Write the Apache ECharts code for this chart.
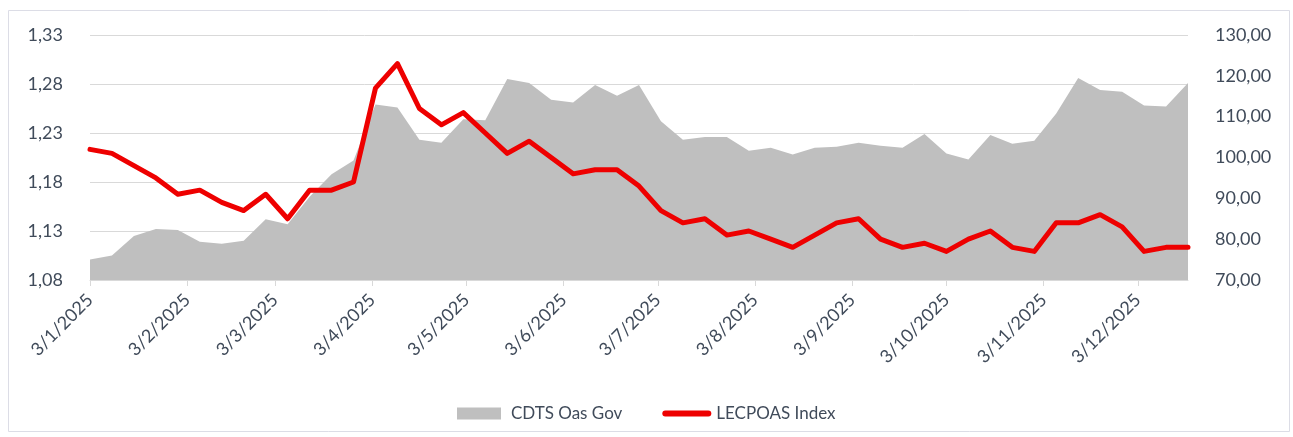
<!DOCTYPE html>
<html>
<head>
<meta charset="utf-8">
<script src="https://cdn.jsdelivr.net/npm/echarts@6/dist/echarts.min.js"></script>
<style>
html,body{margin:0;padding:0;background:#fff;}
#chart{width:1293px;height:437px;}
</style>
</head>
<body>
<div id="chart"></div>
<script>
// Weekly observation dates (Fridays), 2025
const dates = [
  '2025-01-03','2025-01-10','2025-01-17','2025-01-24','2025-01-31',
  '2025-02-07','2025-02-14','2025-02-21','2025-02-28',
  '2025-03-07','2025-03-14','2025-03-21','2025-03-28',
  '2025-04-04','2025-04-11','2025-04-18','2025-04-25',
  '2025-05-02','2025-05-09','2025-05-16','2025-05-23','2025-05-30',
  '2025-06-06','2025-06-13','2025-06-20','2025-06-27',
  '2025-07-04','2025-07-11','2025-07-18','2025-07-25',
  '2025-08-01','2025-08-08','2025-08-15','2025-08-22','2025-08-29',
  '2025-09-05','2025-09-12','2025-09-19','2025-09-26',
  '2025-10-03','2025-10-10','2025-10-17','2025-10-24','2025-10-31',
  '2025-11-07','2025-11-14','2025-11-21','2025-11-28',
  '2025-12-05','2025-12-12','2025-12-19'
];
// CDTS Oas Gov (left axis)
const cdts = [
  1.101,1.105,1.125,1.132,1.131,
  1.119,1.117,1.120,1.142,
  1.137,1.165,1.188,1.202,
  1.259,1.256,1.223,1.220,
  1.244,1.243,1.285,1.281,1.264,
  1.261,1.279,1.268,1.279,
  1.242,1.223,1.226,1.226,
  1.212,1.215,1.208,1.215,1.216,
  1.220,1.217,1.215,1.229,
  1.209,1.203,1.228,1.219,1.222,
  1.250,1.286,1.274,1.272,
  1.258,1.257,1.281
];
// LECPOAS Index (right axis)
const lecpoas = [
  102,101,98,95,91,
  92,89,87,91,
  85,92,92,94,
  117,123,112,108,
  111,106,101,104,100,
  96,97,97,93,
  87,84,85,81,
  82,80,78,81,84,
  85,80,78,79,
  77,80,82,78,77,
  84,84,86,83,
  77,78,78
];
// X-axis tick dates and labels (d/m/yyyy)
const tickDates = [
  '2025-01-03','2025-02-03','2025-03-03','2025-04-03','2025-05-03','2025-06-03',
  '2025-07-03','2025-08-03','2025-09-03','2025-10-03','2025-11-03','2025-12-03'
];
const tickLabels = [
  '3/1/2025','3/2/2025','3/3/2025','3/4/2025','3/5/2025','3/6/2025',
  '3/7/2025','3/8/2025','3/9/2025','3/10/2025','3/11/2025','3/12/2025'
];
const seriesNames = ['CDTS Oas Gov','LECPOAS Index'];

const toTs = d => Date.parse(d + 'T00:00:00Z');
const tickTs = tickDates.map(toTs);
const textColor = '#404b5a';
const fontFamily = 'Lato, "Noto Sans", sans-serif';

const chart = echarts.init(document.getElementById('chart'), null, {renderer: 'canvas'});
chart.setOption({
  animation: false,
  backgroundColor: '#ffffff',
  textStyle: {fontFamily: fontFamily},
  graphic: [{
    type: 'rect', z: -10, silent: true,
    shape: {x: 8.5, y: 10.5, width: 1281, height: 421},
    style: {fill: 'none', stroke: '#dcdde6', lineWidth: 1}
  }],
  grid: {left: 90, right: 105, top: 35, bottom: 157, containLabel: false},
  legend: {
    top: 400, left: 452,
    itemGap: 40, itemWidth: 49, itemHeight: 12,
    textStyle: {color: textColor, fontSize: 17, fontFamily: fontFamily},
    data: [
      {name: seriesNames[0], icon: 'path://M0,0L44,0L44,12L0,12ZM49,12L49,12', itemStyle: {color: '#bfbfbf'}},
      {name: seriesNames[1], icon: 'path://M0,0L0,0M49,12L49,12M3,3L46,3A3,3,0,0,1,46,9L3,9A3,3,0,0,1,3,3Z', itemStyle: {color: '#ee0000'}}
    ]
  },
  xAxis: {
    type: 'value',
    min: toTs(dates[0]),
    max: toTs(dates[dates.length - 1]),
    axisLine: {show: true, lineStyle: {color: '#d9d9d9', width: 1}},
    axisTick: {show: true, length: 6, lineStyle: {color: '#d9d9d9'}, customValues: tickTs},
    axisLabel: {
      customValues: tickTs,
      rotate: 45,
      margin: 17,
      color: textColor,
      fontSize: 18,
      fontFamily: fontFamily,
      hideOverlap: false,
      formatter: function (v) {
        const i = tickTs.indexOf(v);
        return i >= 0 ? tickLabels[i] : '';
      }
    },
    splitLine: {show: false}
  },
  yAxis: [{
    type: 'value',
    min: 1.08, max: 1.33, interval: 0.05,
    axisLine: {show: false},
    axisTick: {show: false},
    axisLabel: {
      color: textColor, fontSize: 18, margin: 27, fontFamily: fontFamily,
      formatter: v => v.toFixed(2).replace('.', ',')
    },
    splitLine: {show: true, lineStyle: {color: '#d9d9d9', width: 1}}
  }, {
    type: 'value',
    min: 70, max: 130, interval: 10,
    axisLine: {show: false},
    axisTick: {show: false},
    axisLabel: {
      color: textColor, fontSize: 18, margin: 27, fontFamily: fontFamily,
      formatter: v => v.toFixed(2).replace('.', ',')
    },
    splitLine: {show: false}
  }],
  series: [{
    name: seriesNames[0],
    type: 'line',
    yAxisIndex: 0,
    data: dates.map((d, i) => [toTs(d), cdts[i]]),
    showSymbol: false,
    lineStyle: {width: 0, color: '#bfbfbf'},
    itemStyle: {color: '#bfbfbf'},
    areaStyle: {color: '#bfbfbf', opacity: 1},
    z: 1
  }, {
    name: seriesNames[1],
    type: 'line',
    yAxisIndex: 1,
    data: dates.map((d, i) => [toTs(d), lecpoas[i]]),
    showSymbol: false,
    lineStyle: {width: 5, color: '#ee0000', join: 'round', cap: 'round'},
    itemStyle: {color: '#ee0000'},
    z: 3
  }]
});
</script>
</body>
</html>
